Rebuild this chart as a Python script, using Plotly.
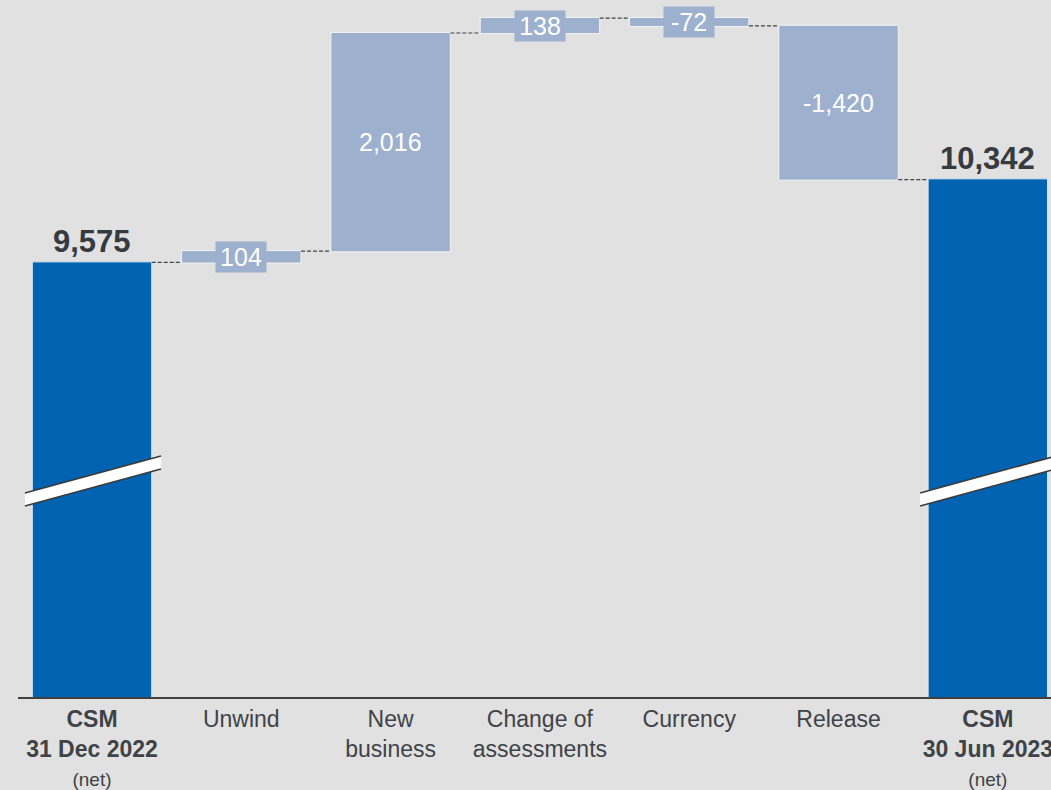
import plotly.graph_objects as go

categories = ["CSM<br>31 Dec 2022", "Unwind", "New<br>business", "Change of<br>assessments",
              "Currency", "Release", "CSM<br>30 Jun 2023"]
bold_flags = [True, False, False, False, False, False, True]
values = [9575, 104, 2016, 138, -72, -1420, 10342]
measures = ["absolute", "relative", "relative", "relative", "relative", "relative", "absolute"]
labels = ["9,575", "104", "2,016", "138", "-72", "-1,420", "10,342"]
boxed = [False, True, False, True, True, False, False]

BLUE = "#0063b1"
LIGHT = "#9db0ce"
BG = "#e1e1e1"
DARK = "#363b3f"
TXT = "#3f4347"
FONT = "Liberation Sans, Arial, sans-serif"

x = list(range(len(values)))

ticktext = []
for c, b in zip(categories, bold_flags):
    if b:
        ticktext.append("<b>" + c + "</b><br><span style='font-size:19px'>(net)</span>")
    else:
        ticktext.append(c)

fig = go.Figure(go.Waterfall(
    x=x, y=values, measure=measures,
    increasing=dict(marker=dict(color=LIGHT, line=dict(color="#f4f4f4", width=1))),
    decreasing=dict(marker=dict(color=LIGHT, line=dict(color="#f4f4f4", width=1))),
    totals=dict(marker=dict(color=BLUE, line=dict(color="#dfe8f2", width=1))),
    connector=dict(mode="between", line=dict(color="#444444", width=1.2, dash="4px,2px")),
    hoverinfo="skip",
))

annotations = []
level = 0
for i, (v, m, lab, bx) in enumerate(zip(values, measures, labels, boxed)):
    if m == "absolute":
        annotations.append(dict(x=i, y=v, text="<b>" + lab + "</b>", showarrow=False,
                                yanchor="bottom", yshift=1,
                                font=dict(size=31, color=DARK, family=FONT)))
        level = v
    else:
        mid = level + v / 2
        level = level + v
        a = dict(x=i, y=mid, text=lab, showarrow=False, yanchor="middle",
                 font=dict(size=25, color="white", family=FONT))
        if bx:
            a.update(bgcolor=LIGHT, borderpad=1, width=48)
        annotations.append(a)

# axis-break marks on the total bars
shapes = []
for x0, x1 in [(-0.449, 0.462), (5.546, 6.457)]:
    ytl, ytr, ybl, ybr = 7445, 7787, 7325, 7667
    shapes.append(dict(type="path", xref="x", yref="y",
                       path=f"M {x0},{ytl} L {x1},{ytr} L {x1},{ybr} L {x0},{ybl} Z",
                       fillcolor="white", line=dict(width=0)))
    shapes.append(dict(type="line", xref="x", yref="y", x0=x0, y0=ytl, x1=x1, y1=ytr,
                       line=dict(color="#3a3a3a", width=1.5)))
    shapes.append(dict(type="line", xref="x", yref="y", x0=x0, y0=ybl, x1=x1, y1=ybr,
                       line=dict(color="#3a3a3a", width=1.5)))

fig.update_layout(
    width=1051, height=790,
    margin=dict(l=18, r=0, t=0, b=93, autoexpand=False),
    paper_bgcolor=BG, plot_bgcolor=BG,
    showlegend=False,
    bargap=0.21,
    annotations=annotations,
    shapes=shapes,
    font=dict(family=FONT, color=TXT),
)
fig.update_xaxes(range=[-0.4957, 6.423], tickmode="array", tickvals=x, ticktext=ticktext,
                 tickfont=dict(size=23, color=TXT, family=FONT), showgrid=False, zeroline=False,
                 showline=True, linecolor="#404040", linewidth=2, ticks="", automargin=False,
                 ticklabeloverflow="allow")
fig.update_yaxes(range=[5560, 12000], visible=False, showgrid=False, zeroline=False)

fig.write_html("out.html", config={"displayModeBar": False},
               post_script="document.body.style.margin='0';document.body.style.background='#e1e1e1';")
